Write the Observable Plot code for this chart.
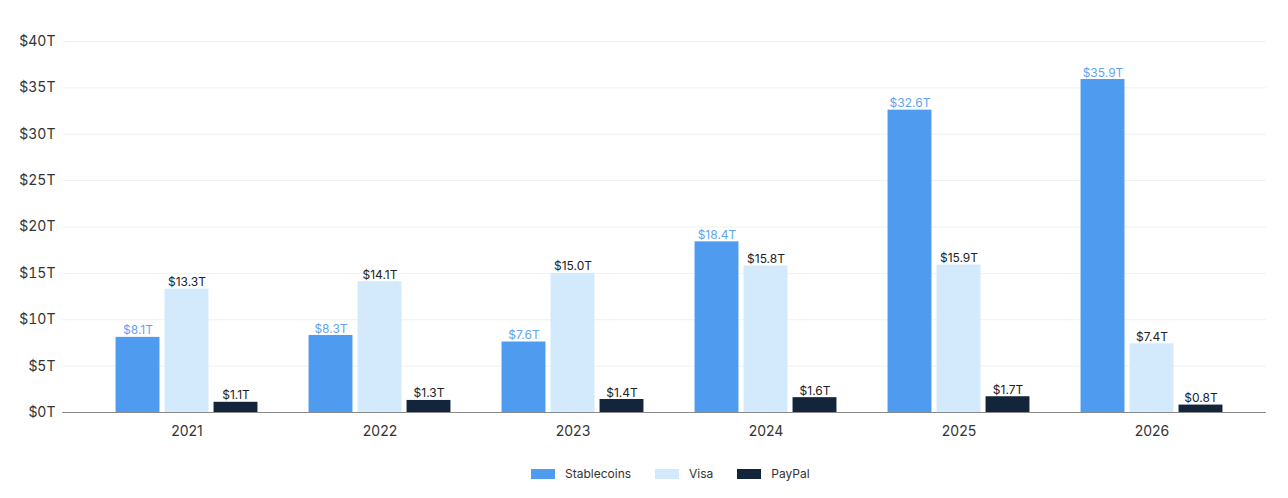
<!DOCTYPE html>
<html>
<head>
<meta charset="utf-8">
<script src="https://cdn.jsdelivr.net/npm/d3@7"></script>
<script src="https://cdn.jsdelivr.net/npm/@observablehq/plot@0.6"></script>
<style>
  body { margin: 0; background: #fff; font-family: Inter, "Noto Sans", sans-serif; }
  #chart { width: 1288px; }
  .lg-swatches { justify-content: flex-start !important; margin-left: 531px !important; margin-top: 7px !important; font-family: Inter, sans-serif !important; font-size: 12px !important; color: #333 !important; }
  .lg-swatch { margin-right: 24px !important; }
  .lg-swatch > svg { margin-right: 10px !important; }
</style>
</head>
<body>
<div id="chart"></div>
<script>
const years = ["2021", "2022", "2023", "2024", "2025", "2026"];
const seriesNames = ["Stablecoins", "Visa", "PayPal"];
const stablecoins = [8.1, 8.3, 7.6, 18.4, 32.6, 35.9];
const visa = [13.3, 14.1, 15.0, 15.8, 15.9, 7.4];
const paypal = [1.1, 1.3, 1.4, 1.6, 1.7, 0.8];
const yTicks = [0, 5, 10, 15, 20, 25, 30, 35, 40];
const colors = ["#4f9bf0", "#d2eafc", "#13253a"];
const labelColors = ["#5ea4f3", "#222", "#222"];

const values = [stablecoins, visa, paypal];
const tables = values.map((vals, j) => years.map((yr, i) => ({year: yr, series: seriesNames[j], value: vals[i]})));

// layout of the three bars inside each year band (band step ~193px)
const step = 1158.5 / years.length;
const barW = 44, barGap = 49;
const fmt = d => `$${d.value.toFixed(1)}T`;

const barMarks = tables.map((t, j) => {
  const offset = (j - 1) * barGap;
  const left = step / 2 + offset - barW / 2;
  const right = step - left - barW;
  return Plot.barY(t, {x: "year", y: "value", fill: "series", insetLeft: left, insetRight: right});
});
const labelMarks = tables.map((t, j) =>
  Plot.text(t, {x: "year", y: "value", text: fmt, dx: (j - 1) * barGap, dy: -3, lineAnchor: "bottom", fontSize: 12, fill: labelColors[j]})
);

const chart = Plot.plot({
  width: 1288,
  height: 450,
  marginTop: 41,
  marginBottom: 38,
  marginLeft: 62,
  marginRight: 22,
  style: {fontFamily: "Inter, sans-serif", color: "#333", background: "#fff"},
  x: {domain: years, range: [89.5, 1248], padding: 0, label: null},
  y: {domain: [0, 40], label: null},
  color: {domain: seriesNames, range: colors},
  marks: [
    Plot.gridY(yTicks.slice(1), {stroke: "#f1f1f1", strokeOpacity: 1}),
    Plot.axisY(yTicks, {anchor: "left", tickSize: 0, tickPadding: 7, fontSize: 14, fill: "#333", tickFormat: d => `$${d}T`, label: null}),
    ...barMarks,
    Plot.ruleY([0], {stroke: "#8a8a8a", strokeWidth: 1}),
    ...labelMarks,
    Plot.axisX({anchor: "bottom", tickSize: 0, tickPadding: 14, fontSize: 14, fill: "#333", label: null})
  ]
});

document.getElementById("chart").appendChild(chart);

const legend = Plot.legend({
  color: {domain: seriesNames, range: colors},
  swatchWidth: 24,
  swatchHeight: 10,
  className: "lg"
});
document.getElementById("chart").appendChild(legend);
</script>
</body>
</html>
